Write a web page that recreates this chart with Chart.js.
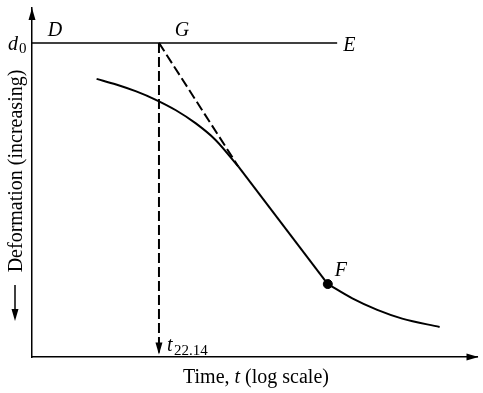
<!DOCTYPE html>
<html>
<head>
<meta charset="utf-8">
<script src="https://cdn.jsdelivr.net/npm/chart.js@4.4.1/dist/chart.umd.min.js"></script>
<style>
  body { margin: 0; background: #fff; }
  canvas { display: block; }
</style>
</head>
<body>
<canvas id="grafico" width="483" height="393"></canvas>
<script>
// Valores (x = tempo em escala log, y = deformação)
const d0 = 90;            // nível d0 (linha D-E)
const tG = 28.5;          // tempo do ponto G
const lineEndX = 68.5;    // fim da linha D-E
const tangentEnd = [46.3, 54.6];
const tArrowEnd = 1.3;

const earlyX = [14.5, 18.9, 23.4, 27.8, 32.3, 36.7, 41.2, 46.3];
const earlyY = [79.7, 78.1, 76.1, 73.7, 70.7, 67.0, 62.2, 54.6];
const straightX = [46.3, 66.4];
const straightY = [54.6, 20.9];
const lateX = [66.4, 71.9, 77.5, 83.1, 91.5];
const lateY = [20.9, 16.8, 13.5, 11.0, 8.6];
const pointF = [66.4, 20.9];

const xTitle = "Time, ";
const yTitle = "Deformation (increasing)";
const tLabelSub = "22.14";

function pares(xs, ys) {
    return xs.map((v, i) => ({ x: v, y: ys[i] }));
}

const serif = "'Liberation Serif', 'DejaVu Serif', serif";

function seta(ctx, x, y, dir) {
    // desenha ponta de seta com a ponta em (x, y)
    ctx.save();
    ctx.fillStyle = '#000';
    ctx.beginPath();
    if (dir === 'up') {
        ctx.moveTo(x, y); ctx.lineTo(x - 3.5, y + 12); ctx.lineTo(x + 3.5, y + 12);
    } else if (dir === 'down') {
        ctx.moveTo(x, y); ctx.lineTo(x - 3.5, y - 12); ctx.lineTo(x + 3.5, y - 12);
    } else {
        ctx.moveTo(x, y); ctx.lineTo(x - 12, y - 3.5); ctx.lineTo(x - 12, y + 3.5);
    }
    ctx.closePath();
    ctx.fill();
    ctx.restore();
}

const anotacoes = {
    id: 'anotacoes',
    afterDraw(chart) {
        const ctx = chart.ctx;
        const xs = chart.scales.x, ys = chart.scales.y;
        const a = chart.chartArea;

        // pontas das setas dos eixos
        seta(ctx, a.left, a.top, 'up');
        seta(ctx, a.right + 1, a.bottom, 'right');
        seta(ctx, xs.getPixelForValue(tG), ys.getPixelForValue(tArrowEnd) + 2, 'down');

        ctx.save();
        ctx.fillStyle = '#000';
        ctx.textBaseline = 'alphabetic';

        const yd0 = ys.getPixelForValue(d0);
        ctx.font = 'italic 20px ' + serif;
        ctx.textAlign = 'center';
        ctx.fillText('D', 55, yd0 - 7);
        ctx.fillText('G', xs.getPixelForValue(tG) + 23, yd0 - 7);
        ctx.textAlign = 'left';
        ctx.fillText('E', xs.getPixelForValue(lineEndX) + 6, yd0 + 8);
        ctx.fillText('F', xs.getPixelForValue(pointF[0]) + 7, ys.getPixelForValue(pointF[1]) - 8);

        // d0
        ctx.fillText('d', 8, yd0 + 7);
        ctx.font = '15px ' + serif;
        ctx.fillText('0', 19, yd0 + 10);

        // t22.14
        const xt = xs.getPixelForValue(tG);
        ctx.font = 'italic 20px ' + serif;
        ctx.fillText('t', xt + 8, a.bottom - 6);
        ctx.font = '15px ' + serif;
        ctx.fillText(tLabelSub, xt + 15, a.bottom - 2);

        // título do eixo x
        ctx.font = '20px ' + serif;
        const w1 = ctx.measureText(xTitle).width;
        ctx.font = 'italic 20px ' + serif;
        const w2 = ctx.measureText('t').width;
        ctx.font = '20px ' + serif;
        const w3 = ctx.measureText(' (log scale)').width;
        let x0 = 256 - (w1 + w2 + w3) / 2;
        ctx.fillText(xTitle, x0, 383);
        ctx.font = 'italic 20px ' + serif;
        ctx.fillText('t', x0 + w1, 383);
        ctx.font = '20px ' + serif;
        ctx.fillText(' (log scale)', x0 + w1 + w2, 383);

        // título do eixo y (rodado)
        ctx.save();
        ctx.translate(22, 171);
        ctx.rotate(-Math.PI / 2);
        ctx.textAlign = 'center';
        ctx.font = '20px ' + serif;
        ctx.fillText(yTitle, 0, 0);
        ctx.restore();

        // seta do título y
        ctx.strokeStyle = '#000';
        ctx.lineWidth = 1.5;
        ctx.beginPath();
        ctx.moveTo(15, 285);
        ctx.lineTo(15, 310);
        ctx.stroke();
        seta(ctx, 15, 321, 'down');

        ctx.restore();
    }
};

const ctx = document.getElementById('grafico');

new Chart(ctx, {
    type: 'scatter',
    data: {
        datasets: [
            {   // linha D - E
                data: [{ x: 0, y: d0 }, { x: lineEndX, y: d0 }],
                showLine: true, borderColor: '#000', borderWidth: 1.5, pointRadius: 0
            },
            {   // vertical tracejada em G
                data: [{ x: tG, y: d0 }, { x: tG, y: tArrowEnd }],
                showLine: true, borderColor: '#000', borderWidth: 2, borderDash: [10, 4], pointRadius: 0
            },
            {   // tangente tracejada
                data: [{ x: tG, y: d0 }, { x: tangentEnd[0], y: tangentEnd[1] }],
                showLine: true, borderColor: '#000', borderWidth: 2, borderDash: [10, 4], pointRadius: 0
            },
            {   // curva inicial
                data: pares(earlyX, earlyY),
                showLine: true, borderColor: '#000', borderWidth: 2, pointRadius: 0,
                cubicInterpolationMode: 'monotone'
            },
            {   // troço reto
                data: pares(straightX, straightY),
                showLine: true, borderColor: '#000', borderWidth: 2, pointRadius: 0
            },
            {   // curva final
                data: pares(lateX, lateY),
                showLine: true, borderColor: '#000', borderWidth: 2, pointRadius: 0,
                cubicInterpolationMode: 'monotone'
            },
            {   // ponto F
                data: [{ x: pointF[0], y: pointF[1] }],
                pointRadius: 4.5, backgroundColor: '#000', borderColor: '#000'
            }
        ]
    },
    options: {
        responsive: false,
        animation: false,
        layout: { padding: { left: 32, right: 1, top: 8, bottom: 36 } },
        plugins: { legend: { display: false }, tooltip: { enabled: false } },
        scales: {
            x: {
                type: 'linear', min: 0, max: 100,
                grid: { display: false, drawTicks: false },
                ticks: { display: false },
                border: { display: true, color: '#000', width: 1.5 }
            },
            y: {
                type: 'linear', min: 0, max: 100,
                grid: { display: false, drawTicks: false },
                ticks: { display: false },
                border: { display: true, color: '#000', width: 1.5 }
            }
        }
    },
    plugins: [anotacoes]
});
</script>
</body>
</html>
